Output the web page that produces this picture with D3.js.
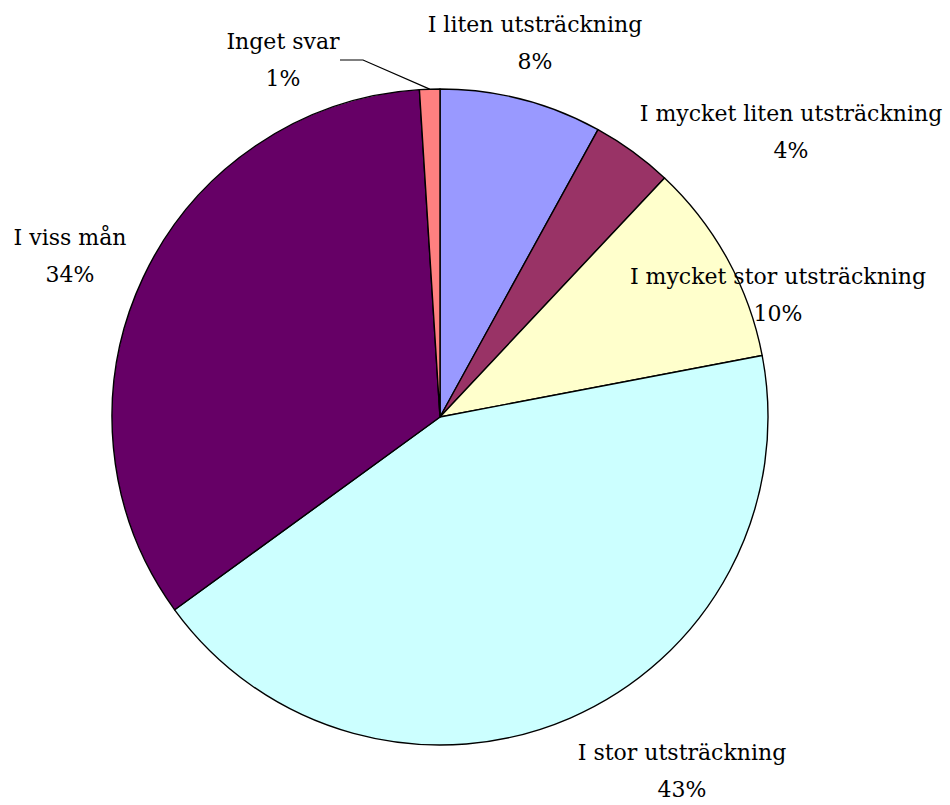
<!DOCTYPE html>
<html>
<head>
<meta charset="utf-8">
<script src="https://cdn.jsdelivr.net/npm/d3@7"></script>
<style>
  html, body { margin: 0; padding: 0; background: #fff; }
  svg { display: block; }
</style>
</head>
<body>
<svg id="chart" width="950" height="805"></svg>
<script>
// Answer categories, clockwise from twelve o'clock
const categories = [
  "I liten utsträckning",
  "I mycket liten utsträckning",
  "I mycket stor utsträckning",
  "I stor utsträckning",
  "I viss mån",
  "Inget svar"
];
// Share of answers, in percent
const values = [8, 4, 10, 43, 34, 1];
const percentLabels = ["8%", "4%", "10%", "43%", "34%", "1%"];
const colors = ["#9999FF", "#993366", "#FFFFCC", "#CCFFFF", "#660066", "#FF8080"];
// Label anchor points (centre of the two-line label)
const labelPos = [
  [535, 43], [791, 132], [778, 295], [682, 771], [70, 256], [283, 60]
];

const svg = d3.select("#chart");
const cx = 440, cy = 417, r = 328;

const pie = d3.pie().sort(null).value(d => d)(values);
const arc = d3.arc().innerRadius(0).outerRadius(r);

const g = svg.append("g").attr("transform", `translate(${cx},${cy})`);
g.selectAll("path")
  .data(pie)
  .join("path")
  .attr("d", arc)
  .attr("fill", (d, i) => colors[i])
  .attr("stroke", "#000")
  .attr("stroke-width", 1.4)
  .attr("stroke-linejoin", "round");

// Leader line for the smallest slice
const small = pie[5];
const mid = (small.startAngle + small.endAngle) / 2;
const ex = cx + r * Math.sin(mid), ey = cy - r * Math.cos(mid);
svg.append("polyline")
  .attr("points", `340,60 363,60 ${ex},${ey}`)
  .attr("fill", "none")
  .attr("stroke", "#000")
  .attr("stroke-width", 1.2);

const fs = 22, lh = 37;
const labels = svg.append("g")
  .attr("font-family", "'DejaVu Serif', 'Liberation Serif', serif")
  .attr("font-size", fs)
  .attr("fill", "#000")
  .attr("text-anchor", "middle");
categories.forEach((c, i) => {
  const [x, y] = labelPos[i];
  labels.append("text").attr("x", x).attr("y", y - lh / 2).attr("dy", "0.35em").text(c);
  labels.append("text").attr("x", x).attr("y", y + lh / 2).attr("dy", "0.35em").text(percentLabels[i]);
});
</script>
</body>
</html>
